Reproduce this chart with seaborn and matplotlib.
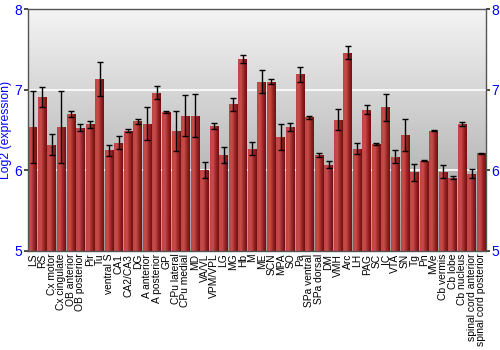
import matplotlib
matplotlib.use("Agg")
import matplotlib.pyplot as plt
import seaborn as sns
import numpy as np
import pandas as pd
from matplotlib.colors import LinearSegmentedColormap

regions = ["LS", "RS", "Cx motor", "Cx cingulate", "OB anterior", "OB posterior", "Pir", "Tu",
           "ventral S", "CA1", "CA2/CA3", "DG", "A anterior", "A posterior", "GP", "CPu lateral",
           "CPu medial", "MD", "VA/VL", "VPM/VPL", "LG", "MG", "Hb", "M", "ME", "SCN", "MPA", "SO",
           "Pa", "SPa ventral", "SPa dorsal", "DM", "VMH", "Arc", "LH", "PAG", "SC", "IC", "VTA",
           "SN", "Tg", "Pn", "MVe", "Cb vermis", "Cb lobe", "Cb nucleus", "spinal cord anterior",
           "spinal cord posterior"]
expression = [6.54, 6.91, 6.32, 6.535, 6.70, 6.53, 6.57, 7.13,
              6.25, 6.34, 6.49, 6.61, 6.58, 6.96, 6.72, 6.49,
              6.68, 6.68, 6.00, 6.55, 6.19, 6.82, 7.38, 6.27, 7.10, 7.10, 6.41, 6.54,
              7.19, 6.66, 6.19, 6.07, 6.63, 7.46, 6.27, 6.75, 6.33, 6.78, 6.17,
              6.44, 5.975, 6.12, 6.49, 5.98, 5.91, 6.57, 5.96,
              6.21]
errors = [0.45, 0.12, 0.13, 0.45, 0.04, 0.04, 0.04, 0.21,
          0.07, 0.08, 0.02, 0.03, 0.20, 0.08, 0.015, 0.245,
          0.26, 0.27, 0.10, 0.04, 0.095, 0.08, 0.045, 0.08, 0.14, 0.035, 0.16, 0.05,
          0.09, 0.02, 0.02, 0.04, 0.13, 0.08, 0.07, 0.055, 0.012, 0.165, 0.08,
          0.195, 0.105, 0.005, 0.005, 0.08, 0.02, 0.025, 0.055,
          0.005]

df = pd.DataFrame({"region": regions, "expression": expression, "err": errors})

sns.set_theme(style="white")
plt.rcParams['font.family'] = ['Liberation Sans', 'DejaVu Sans']

fig = plt.figure(figsize=(5, 3.5), dpi=100)
ax = fig.add_axes([0.056, 0.283, 0.916, 0.691])

blue = "#0000ff"
ymin, ymax = 5, 8

sns.barplot(data=df, x="region", y="expression", ax=ax, color="#a02020",
            errorbar=None, width=0.92, zorder=2)

ax.set_ylim(ymin, ymax)
ax.set_xlim(-0.5, len(regions) - 0.5)

# background gradient
bg = LinearSegmentedColormap.from_list("bg", ["#9c9c9c", "#f4f4f4"])
grad = np.linspace(0, 1, 256).reshape(-1, 1)
ax.imshow(grad, aspect="auto", cmap=bg, origin="lower",
          extent=[-0.5, len(regions) - 0.5, ymin, ymax], zorder=0)

# horizontal gridlines
for yv in [6, 7]:
    ax.axhline(yv, color="white", lw=1.2, zorder=1)

# bar gradient
barcm = LinearSegmentedColormap.from_list("bar", ["#c24444", "#c84c4c", "#9a2626", "#6e1010"])
hgrad = np.linspace(0, 1, 64).reshape(1, -1)
for p in ax.patches:
    x0, w = p.get_x(), p.get_width()
    h = p.get_height()
    p.set_facecolor("none")
    p.set_edgecolor("none")
    im = ax.imshow(hgrad, aspect="auto", cmap=barcm,
                   extent=[x0, x0 + w, ymin, h], zorder=2)
    im.set_clip_path(p)

xs = [p.get_x() + p.get_width() / 2 for p in ax.patches]
ax.errorbar(xs, df["expression"], yerr=df["err"], fmt="none", ecolor="black",
            elinewidth=1, capsize=2.5, capthick=1, zorder=3)

ax.set_xlabel("")
ax.set_ylabel("Log2 (expression)", color=blue, fontsize=8.8, labelpad=2)
ax.set_yticks([5, 6, 7, 8])
ax.tick_params(axis="y", which="both", colors="#333333", labelcolor=blue,
               labelsize=10, length=3, pad=1, left=True, right=True, labelright=True)
ax.tick_params(axis="x", length=0, labelsize=7.4, pad=2, labelcolor="black")
plt.setp(ax.get_xticklabels(), rotation=90)
for s in ax.spines.values():
    s.set_color("#555555")
    s.set_linewidth(1)

fig.savefig("out.png", dpi=100)
